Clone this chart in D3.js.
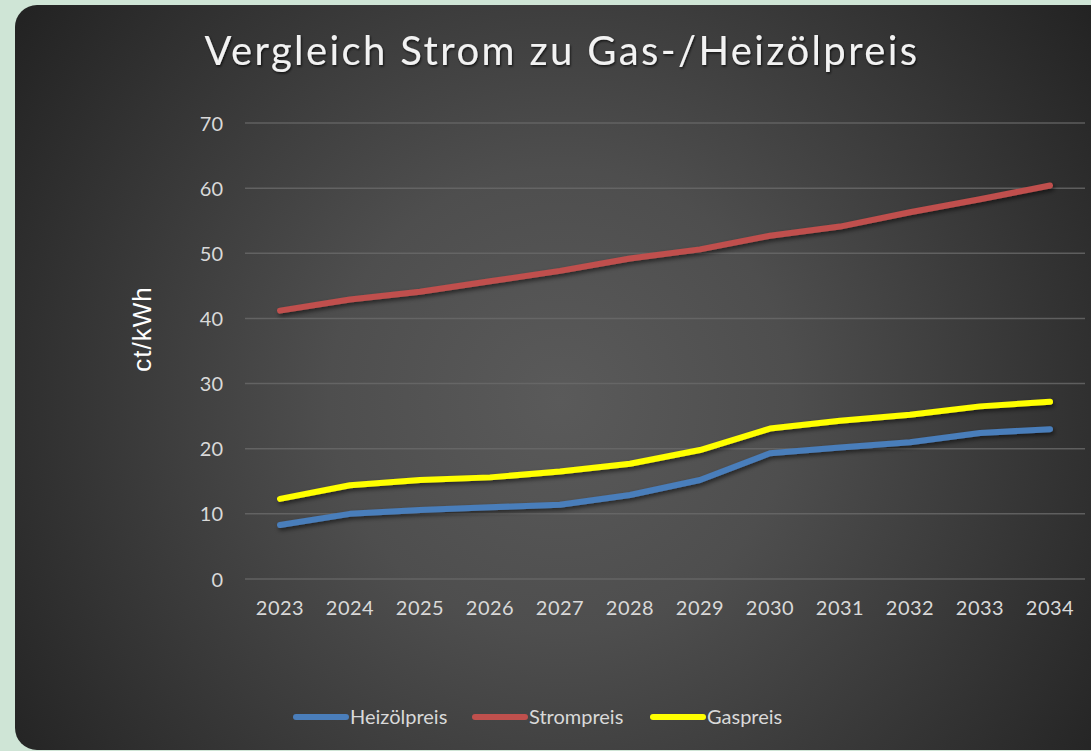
<!DOCTYPE html>
<html>
<head>
<meta charset="utf-8">
<script src="https://cdn.jsdelivr.net/npm/d3@7"></script>
<style>
  body { margin: 0; background: #cfe5d6; }
  svg { display: block; }
</style>
</head>
<body>
<svg id="chart" width="1091" height="751"></svg>
<script>
var years = ["2023","2024","2025","2026","2027","2028","2029","2030","2031","2032","2033","2034"]
var heizoel = [8.3, 10.0, 10.6, 11.0, 11.4, 12.9, 15.2, 19.3, 20.2, 21.0, 22.4, 23.0]
var strom = [41.2, 42.9, 44.1, 45.7, 47.3, 49.2, 50.6, 52.7, 54.1, 56.3, 58.3, 60.4]
var gas = [12.3, 14.4, 15.2, 15.6, 16.5, 17.7, 19.8, 23.1, 24.3, 25.2, 26.5, 27.2]
var yTicks = [0, 10, 20, 30, 40, 50, 60, 70]

var series = [
  {name: "Heizölpreis", values: heizoel, color: "#4a7ebb"},
  {name: "Strompreis", values: strom, color: "#c0504d"},
  {name: "Gaspreis", values: gas, color: "#ffff00"}
]

var svg = d3.select("#chart")
var defs = svg.append("defs")

var grad = defs.append("radialGradient")
    .attr("id", "bg")
    .attr("gradientUnits", "userSpaceOnUse")
    .attr("cx", 560).attr("cy", 400).attr("r", 660)
grad.append("stop").attr("offset", "0").attr("stop-color", "#5a5a5a")
grad.append("stop").attr("offset", "0.35").attr("stop-color", "#4e4e4e")
grad.append("stop").attr("offset", "1").attr("stop-color", "#232323")

var shadow = defs.append("filter").attr("id", "shadow")
    .attr("x", "-10%").attr("y", "-10%").attr("width", "120%").attr("height", "130%")
shadow.append("feDropShadow")
    .attr("dx", 1.5).attr("dy", 2.5).attr("stdDeviation", 2)
    .attr("flood-color", "#000").attr("flood-opacity", 0.55)

var tshadow = defs.append("filter").attr("id", "tshadow")
tshadow.append("feDropShadow")
    .attr("dx", 1).attr("dy", 1.5).attr("stdDeviation", 1.2)
    .attr("flood-color", "#000").attr("flood-opacity", 0.7)

// card
svg.append("rect")
    .attr("x", 15).attr("y", 5)
    .attr("width", 1110).attr("height", 745)
    .attr("rx", 22).attr("ry", 22)
    .attr("fill", "url(#bg)")

var margin = {left: 245, right: 6, top: 123, bottom: 172}
var width = 1091 - margin.left - margin.right
var height = 751 - margin.top - margin.bottom

var x = d3.scaleBand().domain(years).range([margin.left, margin.left + width])
var y = d3.scaleLinear().domain([0, 70]).range([margin.top + height, margin.top])

// gridlines
svg.append("g")
    .selectAll("line")
    .data(yTicks)
    .enter()
    .append("line")
    .attr("x1", margin.left)
    .attr("x2", margin.left + width)
    .attr("y1", function(d){ return y(d) })
    .attr("y2", function(d){ return y(d) })
    .attr("stroke", "#6a6a6a")
    .attr("stroke-width", 1.5)
    .attr("stroke-opacity", 0.8)

// y axis labels
var yAxis = svg.append("g")
    .attr("transform", "translate(" + (margin.left - 22) + ",0)")
    .call(d3.axisLeft(y).tickValues(yTicks).tickSize(0).tickPadding(0))
yAxis.select(".domain").remove()
yAxis.selectAll("text")
    .attr("fill", "#d9d9d9")
    .attr("font-family", "Lato, 'Open Sans', sans-serif")
    .attr("font-size", 20)
    .attr("dy", "0.35em")

// x axis labels
var xAxis = svg.append("g")
    .attr("transform", "translate(0," + (margin.top + height + 20) + ")")
    .call(d3.axisBottom(x).tickSize(0).tickPadding(0))
xAxis.select(".domain").remove()
xAxis.selectAll("text")
    .attr("fill", "#d9d9d9")
    .attr("font-family", "Lato, 'Open Sans', sans-serif")
    .attr("font-size", 20)
    .attr("letter-spacing", 0.5)
    .attr("dy", "0.35em")
    .attr("y", 9)

// lines
var line = d3.line()
    .x(function(d, i){ return x(years[i]) + x.bandwidth() / 2 })
    .y(function(d){ return y(d) })

svg.append("g")
    .attr("filter", "url(#shadow)")
    .selectAll("path")
    .data(series)
    .enter()
    .append("path")
    .attr("d", function(d){ return line(d.values) })
    .attr("fill", "none")
    .attr("stroke", function(d){ return d.color })
    .attr("stroke-width", 6)
    .attr("stroke-linecap", "round")
    .attr("stroke-linejoin", "round")

// title
svg.append("text")
    .attr("x", 562)
    .attr("y", 65)
    .attr("text-anchor", "middle")
    .attr("fill", "#f2f2f2")
    .attr("font-family", "Lato, 'Open Sans', sans-serif")
    .attr("font-size", 40)
    .attr("letter-spacing", 2.4)
    .attr("filter", "url(#tshadow)")
    .text("Vergleich Strom zu Gas-/Heizölpreis")

// y axis title
svg.append("text")
    .attr("transform", "translate(151,329) rotate(-90)")
    .attr("text-anchor", "middle")
    .attr("fill", "#ffffff")
    .attr("font-family", "'Liberation Sans', Arial, sans-serif")
    .attr("font-size", 26)
    .attr("letter-spacing", 1)
    .text("ct/kWh")

// legend
var legendX = [296, 475, 653]
var legend = svg.append("g")
    .selectAll(".legend")
    .data(series)
    .enter()
    .append("g")
    .attr("class", "legend")
    .attr("transform", function(d, i){ return "translate(" + legendX[i] + ",717)" })
legend.append("line")
    .attr("x1", 0).attr("x2", 50)
    .attr("stroke", function(d){ return d.color })
    .attr("stroke-width", 6)
    .attr("stroke-linecap", "round")
legend.append("text")
    .attr("x", 54)
    .attr("dy", "0.35em")
    .attr("fill", "#d9d9d9")
    .attr("font-family", "Lato, 'Open Sans', sans-serif")
    .attr("font-size", 20)
    .text(function(d){ return d.name })
</script>
</body>
</html>
